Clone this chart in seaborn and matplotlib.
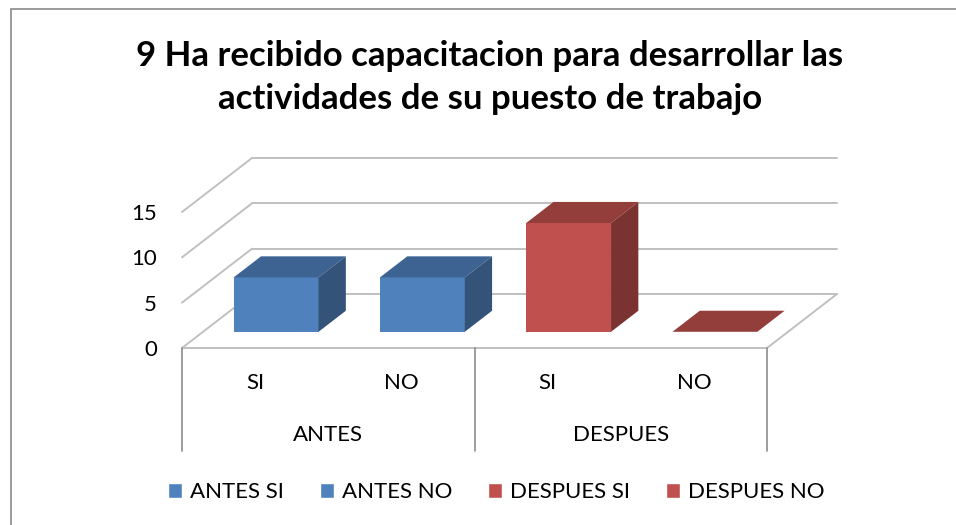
import numpy as np
import pandas as pd
import matplotlib
matplotlib.use("Agg")
import matplotlib.pyplot as plt
import seaborn as sns
from matplotlib.patches import Polygon, Rectangle
from matplotlib.transforms import Affine2D
from matplotlib.colors import to_rgb

# datos del grafico
series = ["ANTES SI", "ANTES NO", "DESPUES SI", "DESPUES NO"]
values = [6, 6, 12, 0]
sub_labels = ["SI", "NO", "SI", "NO"]
groups = ["ANTES", "DESPUES"]
yticks = [0, 5, 10, 15]
colors = ["#4F81BD", "#4F81BD", "#C0504D", "#C0504D"]
title = "9 Ha recibido capacitacion para desarrollar las\nactividades de su puesto de trabajo"

sns.set_style("white")
plt.rcParams["font.family"] = ["Lato", "DejaVu Sans"]
plt.rcParams["text.color"] = "black"
plt.rcParams["xtick.color"] = "black"
plt.rcParams["ytick.color"] = "black"
_fontsize = 16

df = pd.DataFrame({"serie": series, "valor": values})

W, H = 956, 525
fig = plt.figure(figsize=(W / 100, H / 100), dpi=100)
ax = fig.add_axes([182 / W, 1 - 348 / H, (767 - 182) / W, (348 - 212) / H])

sns.barplot(data=df, x="serie", y="valor", hue="serie", palette=colors,
            dodge=False, width=0.58, saturation=1, legend=True, ax=ax)

ax.set_xlim(-0.5, 3.5)
ax.set_ylim(0, 15)
for s in ax.spines.values():
    s.set_visible(False)

# pseudo 3d: profundidad en pixeles -> unidades de datos
sx = (767 - 182) / 4.0
sy = (348 - 212) / 15.0
ddx, ddy = 70 / sx, 54 / sy

gcol = "#C0C0C0"
for k in yticks:
    ax.plot([-0.5, -0.5 + ddx], [k, k + ddy], color=gcol, lw=1.4, clip_on=False, zorder=1)
    ax.plot([-0.5 + ddx, 3.5 + ddx], [k + ddy, k + ddy], color=gcol, lw=1.4, clip_on=False, zorder=1)
ax.plot([-0.5, 3.5, 3.5 + ddx], [0, 0, ddy], color=gcol, lw=1.4, clip_on=False, zorder=1)

for xv in [-0.5, 1.5, 3.5]:
    ax.plot([xv, xv], [0, -103 / sy], color="#8C8C8C", lw=1.2, clip_on=False, zorder=1)

d0, d1 = 0.30, 0.69
ox, oy = d0 * ddx, d0 * ddy
bx, by = (d1 - d0) * ddx, (d1 - d0) * ddy
bars = list(ax.patches)
for p in bars:
    x0, w, h = p.get_x(), p.get_width(), p.get_height()
    c = np.array(to_rgb(p.get_facecolor()))
    p.set_transform(Affine2D().translate(ox, oy) + ax.transData)
    p.set_linewidth(0)
    p.set_clip_on(False)
    p.set_zorder(3)
    top = Polygon([(x0 + ox, h + oy), (x0 + w + ox, h + oy),
                   (x0 + w + ox + bx, h + oy + by), (x0 + ox + bx, h + oy + by)],
                  closed=True, fc=c * 0.77, ec="none", clip_on=False, zorder=3)
    side = Polygon([(x0 + w + ox, oy), (x0 + w + ox + bx, oy + by),
                    (x0 + w + ox + bx, h + oy + by), (x0 + w + ox, h + oy)],
                   closed=True, fc=c * 0.64, ec="none", clip_on=False, zorder=3)
    ax.add_patch(top)
    ax.add_patch(side)

ax.set_yticks(yticks)
ax.set_yticklabels([str(t) for t in yticks])
ax.tick_params(axis="y", length=0, pad=18, labelsize=_fontsize)
ax.set_xticks(range(len(sub_labels)))
ax.set_xticklabels(sub_labels)
ax.tick_params(axis="x", length=0, pad=18, labelsize=_fontsize)
ax.set_xlabel("")
ax.set_ylabel("")

for i, g in enumerate(groups):
    ax.text(0.5 + 2 * i, -87 / sy, g, ha="center", va="center", fontsize=_fontsize)

sns.move_legend(ax, "center", bbox_to_anchor=(0.519, 0.063), bbox_transform=fig.transFigure,
                ncol=4, frameon=False, title=None, fontsize=_fontsize,
                handlelength=0.65, handleheight=0.65, handletextpad=0.35, columnspacing=1.6)

fig.text(0.5126, 0.852, title, ha="center", va="center", fontsize=25,
         fontweight="bold", linespacing=1.4)

fig.add_artist(Rectangle((11 / W, -0.1), 1.2, 1 - 9 / H + 0.1, transform=fig.transFigure,
                         fill=False, ec="#8A8A8A", lw=1.2))

plt.savefig("out.png", dpi=100)
